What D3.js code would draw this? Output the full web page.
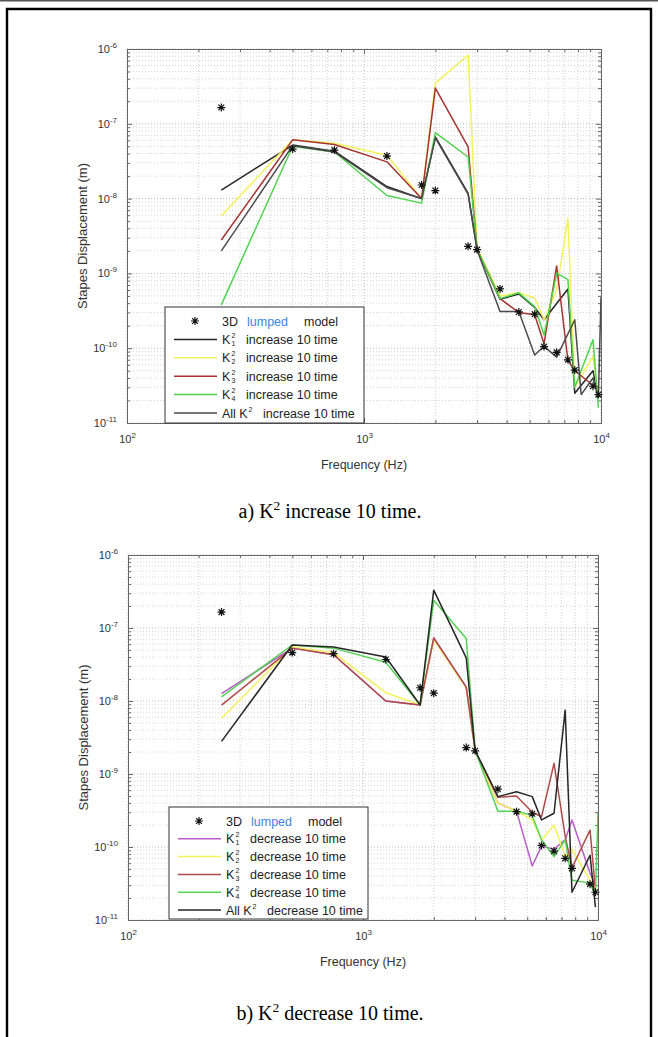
<!DOCTYPE html>
<html>
<head>
<meta charset="utf-8">
<script src="https://cdn.jsdelivr.net/npm/d3@7"></script>
<style>
  body { margin: 0; background: #fff; }
  svg { display: block; }
</style>
</head>
<body>
<svg width="658" height="1037"></svg>
<script>
// frequencies (Hz) shared by the model points and the simulated curves
var freqs = [250, 500, 750, 1250, 1750, 2000, 2750, 3000, 3750, 4500, 5250, 5750, 6500, 7250, 7750, 8250, 9250, 9750, 10000];

// 3D lumped model (stars)
var model = [1.65e-7, 4.6e-8, 4.45e-8, 3.7e-8, 1.52e-8, 1.28e-8, 2.3e-9, 2.08e-9, 6.2e-10, 3.05e-10, 2.85e-10, 1.05e-10, 8.8e-11, 7.0e-11, 5.1e-11, null, 3.1e-11, 2.4e-11, null];

// a) K^2 increase 10 time
var incK1  = [1.3e-8, 5.2e-8, 4.3e-8, 1.45e-8, 1.0e-8, 6.7e-8, 1.17e-8, 2.1e-9, 4.5e-10, 5.3e-10, 3.5e-10, 2.4e-10, null, 6.2e-10, 2.5e-11, null, 5e-11, 2.2e-11, null];
var incK2  = [5.9e-9, 6.1e-8, 5.5e-8, 3.8e-8, 1.0e-8, 3.5e-7, 8.3e-7, 2.2e-9, 5.0e-10, 5.5e-10, 4.7e-10, 2.4e-10, 5.9e-10, 5.5e-9, 3.0e-11, null, 7.7e-11, 2.2e-11, null];
var incK3  = [2.8e-9, 6.1e-8, 5.3e-8, 3.1e-8, 1.0e-8, 3.0e-7, 4.9e-8, 2.1e-9, 4.6e-10, 3.0e-10, 2.8e-10, 1.15e-10, 1.26e-9, 6.9e-11, 5.0e-11, null, 3.2e-11, 3.0e-11, null];
var incK4  = [3.8e-10, 5.0e-8, 4.2e-8, 1.1e-8, 8.7e-9, 7.6e-8, 3.6e-8, 2.1e-9, 4.6e-10, 5.5e-10, 3.6e-10, 1.5e-10, 1.0e-9, 8.3e-10, 3.0e-11, null, 1.3e-10, 1.6e-11, null];
var incAll = [2.0e-9, 5.1e-8, 4.2e-8, 1.4e-8, 1.0e-8, 6.5e-8, 1.15e-8, 2.05e-9, 3.1e-10, 3.1e-10, 8.1e-11, 1.06e-10, 7.6e-11, null, 2.4e-10, 2.4e-11, 4.0e-11, 2.2e-11, 4.8e-10];

// b) K^2 decrease 10 time
var decK1  = [1.26e-8, 5.3e-8, 4.3e-8, 1.0e-8, 8.8e-9, 7.3e-8, 1.55e-8, 2.1e-9, 4.0e-10, 3.1e-10, 5.5e-11, 1.03e-10, 9.3e-11, 1.25e-10, 2.35e-10, null, 4.4e-11, 3.0e-11, null];
var decK2  = [5.8e-9, 5.5e-8, 4.6e-8, 1.3e-8, 8.8e-9, 7.0e-8, 1.5e-8, 2.1e-9, 4.0e-10, 3.1e-10, 2.35e-10, 1.25e-10, 2.0e-10, 7.4e-11, 9.3e-11, null, 3.5e-11, 2.5e-11, null];
var decK3  = [8.8e-9, 5.3e-8, 4.3e-8, 1.0e-8, 8.8e-9, 7.3e-8, 1.55e-8, 2.1e-9, 4.8e-10, 5.0e-10, 3.0e-10, 2.6e-10, 1.4e-9, 1.4e-10, 5.2e-11, null, 1.7e-10, 2.6e-11, null];
var decK4  = [1.14e-8, 5.85e-8, 5.3e-8, 3.4e-8, 8.8e-9, 2.4e-7, 7.2e-8, 2.1e-9, 3.1e-10, 3.1e-10, 2.7e-10, 1.25e-10, 7.4e-11, 1.25e-10, 3.5e-11, null, 3.2e-11, 2.2e-11, 2.9e-10];
var decAll = [2.8e-9, 5.85e-8, 5.5e-8, 4.0e-8, 8.8e-9, 3.3e-7, 3.9e-8, 2.1e-9, 4.9e-10, 5.7e-10, 4.9e-10, 2.35e-10, 2.9e-10, 7.5e-9, 2.4e-11, null, 7.7e-11, 1.5e-11, null];

// tick labels
var xTickExp = [2, 3, 4];
var yTickExp = [-11, -10, -9, -8, -7, -6];

var svg = d3.select("svg");
var sans = "'Liberation Sans', Arial, sans-serif";

// page frame
svg.append("line").attr("x1", 0).attr("x2", 658).attr("y1", 0.8).attr("y2", 0.8)
    .attr("stroke", "#555").attr("stroke-width", 1.6);
svg.append("path").attr("d", "M7,1040V9H651V1040")
    .attr("fill", "none").attr("stroke", "#000").attr("stroke-width", 2.4);

var starPath = "M-4,0L4,0M0,-4L0,4M-2.9,-2.9L2.9,2.9M-2.9,2.9L2.9,-2.9";

function pairs(vals) {
    return freqs.map(function (f, i) { return [f, vals[i]]; })
        .filter(function (d) { return d[1] != null; });
}

function supLabel(sel, base, exp) {
    sel.text(null);
    sel.append("tspan").text(base);
    sel.append("tspan").attr("dy", -5).attr("font-size", "8px").text(exp);
}

function drawPanel(p) {
    var x = d3.scaleLog().domain([100, 10000]).range([p.left, p.right]);
    var y = d3.scaleLog().domain([1e-11, 1e-6]).range([p.bottom, p.top]);
    var w = p.right - p.left, h = p.bottom - p.top;
    var g = svg.append("g");

    var xMajor = xTickExp.map(function (e) { return Math.pow(10, e); });
    var yMajor = yTickExp.map(function (e) { return Math.pow(10, e); });
    var xMinor = [], yMinor = [];
    for (var e = 2; e < 4; e++) for (var m = 2; m <= 9; m++) xMinor.push(m * Math.pow(10, e));
    for (var e2 = -11; e2 < -6; e2++) for (var m2 = 2; m2 <= 9; m2++) yMinor.push(m2 * Math.pow(10, e2));

    // dotted grid
    g.append("g").selectAll("line").data(xMinor).enter().append("line")
        .attr("x1", function (d) { return x(d); }).attr("x2", function (d) { return x(d); })
        .attr("y1", p.top).attr("y2", p.bottom)
        .attr("stroke", "#c8c8c8").attr("stroke-width", 0.8).attr("stroke-dasharray", "1,2");
    g.append("g").selectAll("line").data(yMinor).enter().append("line")
        .attr("y1", function (d) { return y(d); }).attr("y2", function (d) { return y(d); })
        .attr("x1", p.left).attr("x2", p.right)
        .attr("stroke", "#c8c8c8").attr("stroke-width", 0.8).attr("stroke-dasharray", "1,2");
    g.append("g").selectAll("line").data(xMajor).enter().append("line")
        .attr("x1", function (d) { return x(d); }).attr("x2", function (d) { return x(d); })
        .attr("y1", p.top).attr("y2", p.bottom)
        .attr("stroke", "#b4b4b4").attr("stroke-width", 0.9).attr("stroke-dasharray", "1,2");
    g.append("g").selectAll("line").data(yMajor).enter().append("line")
        .attr("y1", function (d) { return y(d); }).attr("y2", function (d) { return y(d); })
        .attr("x1", p.left).attr("x2", p.right)
        .attr("stroke", "#b4b4b4").attr("stroke-width", 0.9).attr("stroke-dasharray", "1,2");

    // axes with inward ticks on all four sides
    function styleAxis(a) {
        a.select(".domain").attr("stroke", "#666");
        a.selectAll(".tick line").attr("stroke", "#666");
        a.selectAll("text").attr("fill", "#333").attr("font-family", sans).attr("font-size", "11px");
    }
    var bottom = g.append("g").attr("transform", "translate(0," + p.bottom + ")")
        .call(d3.axisBottom(x).tickValues(xMajor).tickSize(-5).tickPadding(12).tickSizeOuter(0));
    styleAxis(bottom);
    bottom.selectAll(".tick text").each(function (d) {
        supLabel(d3.select(this), "10", String(Math.round(Math.log10(d))));
    });
    g.append("g").attr("transform", "translate(0," + p.bottom + ")")
        .call(d3.axisBottom(x).tickValues(xMinor).tickSize(-3).tickFormat("").tickSizeOuter(0)).call(styleAxis);
    var top = g.append("g").attr("transform", "translate(0," + p.top + ")")
        .call(d3.axisTop(x).tickValues(xMajor).tickSize(-5).tickFormat("").tickSizeOuter(0));
    styleAxis(top);
    g.append("g").attr("transform", "translate(0," + p.top + ")")
        .call(d3.axisTop(x).tickValues(xMinor).tickSize(-3).tickFormat("").tickSizeOuter(0)).call(styleAxis);

    var left = g.append("g").attr("transform", "translate(" + p.left + ",0)")
        .call(d3.axisLeft(y).tickValues(yMajor).tickSize(-5).tickPadding(10).tickSizeOuter(0));
    styleAxis(left);
    left.selectAll(".tick text").each(function (d) {
        supLabel(d3.select(this), "10", String(Math.round(Math.log10(d))));
    });
    g.append("g").attr("transform", "translate(" + p.left + ",0)")
        .call(d3.axisLeft(y).tickValues(yMinor).tickSize(-3).tickFormat("").tickSizeOuter(0)).call(styleAxis);
    g.append("g").attr("transform", "translate(" + p.right + ",0)")
        .call(d3.axisRight(y).tickValues(yMajor).tickSize(-5).tickFormat("").tickSizeOuter(0)).call(styleAxis);
    g.append("g").attr("transform", "translate(" + p.right + ",0)")
        .call(d3.axisRight(y).tickValues(yMinor).tickSize(-3).tickFormat("").tickSizeOuter(0)).call(styleAxis);

    // curves
    var line = d3.line()
        .x(function (d) { return x(d[0]); })
        .y(function (d) { return y(d[1]); });
    var clipId = "clip" + p.name;
    g.append("clipPath").attr("id", clipId).append("rect")
        .attr("x", p.left).attr("y", p.top).attr("width", w).attr("height", h);
    var curves = g.append("g").attr("clip-path", "url(#" + clipId + ")");
    p.series.forEach(function (s) {
        curves.append("path").datum(pairs(s.values))
            .attr("d", line)
            .attr("fill", "none")
            .attr("stroke", s.color)
            .attr("stroke-width", 1.5)
            .attr("stroke-linejoin", "round");
    });

    // model stars
    g.append("g").selectAll("path").data(pairs(model)).enter().append("path")
        .attr("transform", function (d) { return "translate(" + x(d[0]) + "," + y(d[1]) + ")"; })
        .attr("d", starPath)
        .attr("stroke", "#111").attr("stroke-width", 1.2).attr("fill", "none");

    // axis titles
    g.append("text")
        .attr("x", (p.left + p.right) / 2).attr("y", p.bottom + 46)
        .attr("text-anchor", "middle").attr("font-family", sans).attr("font-size", "12.5px")
        .attr("fill", "#333").text("Frequency (Hz)");
    g.append("text")
        .attr("transform", "translate(" + (p.left - 40) + "," + ((p.top + p.bottom) / 2) + ") rotate(-90)")
        .attr("text-anchor", "middle").attr("font-family", sans).attr("font-size", "13px")
        .attr("fill", "#333").text("Stapes Displacement (m)");

    // legend
    var L = p.legend;
    var lg = g.append("g").attr("font-family", sans).attr("font-size", "12.5px").attr("fill", "#222");
    lg.append("rect").attr("x", L.x).attr("y", L.y).attr("width", L.w).attr("height", L.h)
        .attr("fill", "#fff").attr("stroke", "#333").attr("stroke-width", 1);
    var rowY = function (i) { return L.y + 14 + i * L.step; };
    lg.append("path").attr("transform", "translate(" + (L.x + 30) + "," + rowY(0) + ")")
        .attr("d", starPath).attr("stroke", "#111").attr("stroke-width", 1.2).attr("fill", "none");
    lg.append("text").attr("x", L.x + 57).attr("y", rowY(0) + 4.5).text("3D");
    lg.append("text").attr("x", L.x + 82).attr("y", rowY(0) + 4.5)
        .attr("fill", "#3a86e0").text("lumped");
    lg.append("text").attr("x", L.x + 139).attr("y", rowY(0) + 4.5).text("model");
    p.series.forEach(function (s, i) {
        var ry = rowY(i + 1);
        lg.append("line").attr("x1", L.x + 9).attr("x2", L.x + 52).attr("y1", ry).attr("y2", ry)
            .attr("stroke", s.color).attr("stroke-width", 1.5);
        if (s.sub) {
            lg.append("text").attr("x", L.x + 57).attr("y", ry + 4.5).text("K");
            lg.append("text").attr("x", L.x + 66.5).attr("y", ry - 1.5).attr("font-size", "7px").text("2");
            lg.append("text").attr("x", L.x + 66.5).attr("y", ry + 6.5).attr("font-size", "7px").text(s.sub);
            lg.append("text").attr("x", L.x + 81).attr("y", ry + 4.5).text(p.word + " 10 time");
        } else {
            lg.append("text").attr("x", L.x + 57).attr("y", ry + 4.5).text("All K");
            lg.append("text").attr("x", L.x + 83.5).attr("y", ry - 1.5).attr("font-size", "7px").text("2");
            lg.append("text").attr("x", L.x + 98).attr("y", ry + 4.5).text(p.word + " 10 time");
        }
    });

    // caption
    var cap = svg.append("text").attr("x", 330).attr("y", p.captionY)
        .attr("text-anchor", "middle").attr("font-family", "'Liberation Serif', 'Times New Roman', serif")
        .attr("font-size", "20px").attr("fill", "#000");
    cap.append("tspan").text(p.captionPre + "K");
    cap.append("tspan").attr("dy", -8).attr("font-size", "13.5px").text("2");
    cap.append("tspan").attr("dy", 8).text(" " + p.word + " 10 time.");
}

drawPanel({
    name: "a", left: 127, right: 601, top: 49, bottom: 423,
    word: "increase", captionPre: "a) ", captionY: 518,
    legend: { x: 165, y: 307, w: 199, h: 116, step: 18.4 },
    series: [
        { values: incK1, color: "#262626", sub: "1" },
        { values: incK2, color: "#f4f25a", sub: "2" },
        { values: incK3, color: "#a83232", sub: "3" },
        { values: incK4, color: "#4fd24f", sub: "4" },
        { values: incAll, color: "#4a4a4a", sub: null }
    ]
});

drawPanel({
    name: "b", left: 128, right: 598, top: 555, bottom: 920,
    word: "decrease", captionPre: "b) ", captionY: 1020,
    legend: { x: 169, y: 807, w: 199, h: 112, step: 17.8 },
    series: [
        { values: decK1, color: "#b85cc8", sub: "1" },
        { values: decK2, color: "#f4f25a", sub: "2" },
        { values: decK3, color: "#b04a4a", sub: "3" },
        { values: decK4, color: "#56d256", sub: "4" },
        { values: decAll, color: "#262626", sub: null }
    ]
});
</script>
</body>
</html>
